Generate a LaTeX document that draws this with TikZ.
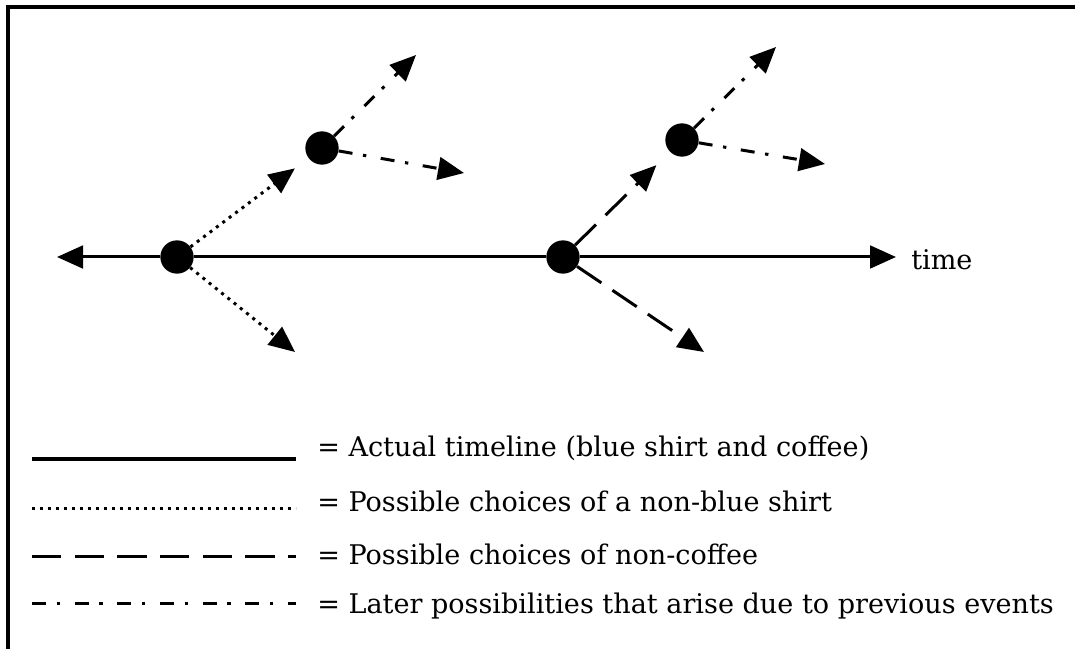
\documentclass[tikz,border=0pt]{standalone}
\usepackage{fontspec}
\setmainfont{DejaVu Serif}
\usetikzlibrary{arrows.meta}
\begin{document}
\begin{tikzpicture}[x=0.75pt,y=-0.75pt,
  evt/.style={circle,fill=black,minimum size=25pt,inner sep=0pt},
  tip/.style={-{Triangle[length=19.5pt,width=17pt]}},
  conn/.style={line width=2.25pt},
  actual/.style={conn},
  shirt/.style={conn,dash pattern=on 2.25pt off 3.75pt},
  coffee/.style={conn,dash pattern=on 22pt off 10pt},
  later/.style={conn,dash pattern=on 10.5pt off 8pt on 2.5pt off 11pt},
  lbl/.style={anchor=base west,inner sep=0pt,font=\fontsize{20.3}{24}\selectfont}]
\useasboundingbox (0,0) rectangle (1075,649);
\draw[line width=2.5pt] (8,652) -- (8,7) -- (1078,7);
% events
\node[evt] (A) at (177,257) {};
\node[evt] (B) at (563,257) {};
\node[evt] (C) at (322,148) {};
\node[evt] (D) at (682,140) {};
\coordinate (ltip) at (57,257);
\coordinate (rtip) at (896,257);
\coordinate (a2) at (295,352);
\coordinate (b2) at (704,352);
\coordinate (c1) at (416,55);
\coordinate (c2) at (464,173);
\coordinate (d1) at (776,47);
\coordinate (d2) at (825,164);
% actual timeline
\draw[actual,tip] (A) -- (ltip);
\draw[actual] (A) -- (B);
\draw[actual,tip] (B) -- (rtip);
\node[lbl] (time) at (911,269) {time};
% shirt choices
\draw[shirt,tip,shorten >=12.75pt] (A) -- (C);
\draw[shirt,tip] (A) -- (a2);
% coffee choices
\draw[coffee,tip,shorten >=14.25pt] (B) -- (D);
\draw[coffee,tip] (B) -- (b2);
% later possibilities
\draw[later,tip] (C) -- (c1);
\draw[later,tip] (C) -- (c2);
\draw[later,tip] (D) -- (d1);
\draw[later,tip] (D) -- (d2);
% legend
\draw[line width=3pt] (32,459) -- (296,459);
\draw[shirt] (32,508) -- (296,508);
\draw[coffee] (32,556) -- (296,556);
\draw[later] (32,603) -- (296,603);
\node[lbl] (t1) at (317,456) {= Actual timeline (blue shirt and coffee)};
\node[lbl] (t2) at (317,511) {= Possible choices of a non-blue shirt};
\node[lbl] (t3) at (317,564) {= Possible choices of non-coffee};
\node[lbl] (t4) at (317,613) {= Later possibilities that arise due to previous events};
\end{tikzpicture}
\end{document}
